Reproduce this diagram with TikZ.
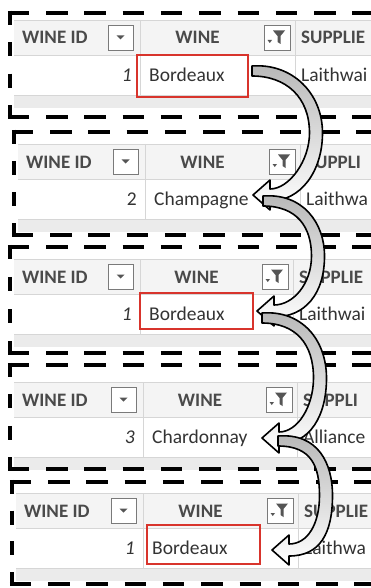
\documentclass[tikz,border=0pt]{standalone}
\usepackage{fontspec}
\setmainfont{Carlito}
\definecolor{hdrtext}{HTML}{4A4A4A}
\definecolor{celltext}{HTML}{333333}
\definecolor{gridc}{HTML}{D6D6D6}
\definecolor{hdrbg}{HTML}{F4F4F4}
\definecolor{stripbg}{HTML}{EBEBEB}
\definecolor{redbox}{HTML}{D8342C}
\definecolor{btnc}{HTML}{7A7A7A}
\tikzset{
 hdr/.style={font=\bfseries\fontsize{19}{22}\selectfont, text=hdrtext, inner sep=0pt},
 cell/.style={font=\fontsize{19.5}{22}\selectfont, text=celltext, inner sep=0pt},
 gridline/.style={draw=gridc, line width=0.8pt},
 border/.style={line width=4.5pt, dash pattern=on 21.5pt off 16.8pt},
 hilite/.style={draw=redbox, line width=2pt},
 btn/.style={draw=btnc, fill=white, line width=0.9pt},
 fat/.style={draw=black, line width=1.6pt, line join=round, top color=black!28, middle color=white, bottom color=white},
}
% #1 name, #2 left, #3 header top, #4 col1, #5 col2, #6 id, #7 wine, #8 supplier, #9 supplier header
\newcommand\winepanel[9]{%
 \fill[hdrbg] ({#2+4},#3) rectangle (380,{#3+35});
 \fill[white] ({#2+4},{#3+35}) rectangle (380,{#3+75});
 \fill[stripbg] ({#2+4},{#3+75}) rectangle (380,{#3+88});
 \draw[gridline] ({#2+4},#3) -- (380,#3) ({#2+4},{#3+35}) -- (380,{#3+35}) ({#2+4},{#3+75}) -- (380,{#3+75});
 \draw[gridline] (#4,#3) -- (#4,{#3+75}) (#5,#3) -- (#5,{#3+75});
 \node[hdr, anchor=base west] (#1-idh) at ({#2+12},{#3+24}) {WINE ID};
 \draw[btn] ({#4-32},{#3+5}) rectangle ({#4-7},{#3+30});
 \fill[btnc!70!black] ({#4-23.5},{#3+15.5}) -- ({#4-15.5},{#3+15.5}) -- ({#4-19.5},{#3+19.5}) -- cycle;
 \node[hdr, anchor=base] (#1-wh) at ({(#4+#5)/2-20},{#3+24}) {WINE};
 \draw[btn] ({#5-31},{#3+5}) rectangle ({#5-5},{#3+30});
 \fill[btnc!70!black] ({#5-22},{#3+10.5}) -- ({#5-10},{#3+10.5}) -- ({#5-14.5},{#3+16}) -- ({#5-14.5},{#3+24}) -- ({#5-17.5},{#3+22}) -- ({#5-17.5},{#3+16}) -- cycle;
 \fill[btnc!70!black] ({#5-27.5},{#3+20}) -- ({#5-23},{#3+20}) -- ({#5-25.25},{#3+23}) -- cycle;
 \node[hdr, anchor=base west] (#1-sh) at ({#5+6},{#3+24}) {#9};
 \node[cell, anchor=base east] (#1-id) at ({#4-8},{#3+61.5}) {#6};
 \node[cell, anchor=base west] (#1-w) at ({#4+9},{#3+61.5}) {#7};
 \node[cell, anchor=base west] (#1-s) at ({#5+6},{#3+61.5}) {#8};
}
% #1 left, #2 top, #3 bottom
\newcommand\dashedframe[3]{%
 \pgfmathsetmacro\gapv{(#3-#2+4.5-56)/3}
 \draw[border] ({#1-2.25},#2) -- (385,#2);
 \draw[border] ({#1-2.25},#3) -- (385,#3);
 \draw[line width=4.5pt, dash pattern=on 14pt off \gapv pt] (#1,{#2-2.25}) -- (#1,{#3+2.25});
}
% #1 Sx, #2 Sy, #3 Tx, #4 Ty, #5 Mx
\newcommand\fatarrow[5]{%
 \pgfmathsetmacro\midy{(#2+#4)/2}
 \path[fat] (#1,{#2-5}) .. controls ({#1+40},{#2-8}) and ({#5+6.5},{#2+22}) .. ({#5+6.5},\midy)
   .. controls ({#5+6.5},{\midy+38}) and ({#3+48},{#4+6}) .. ({#3+17},{#4+6})
   -- ({#3+17},{#4+15}) -- (#3,#4) -- ({#3+17},{#4-15}) -- ({#3+17},{#4-6})
   .. controls ({#3+36},{#4-6}) and ({#5-6.5},{\midy+28}) .. ({#5-6.5},\midy)
   .. controls ({#5-6.5},{#2+26}) and ({#1+34},{#2+5}) .. (#1,{#2+5}) -- cycle;
}
\begin{document}
\begin{tikzpicture}[x=1pt,y=-1pt]
\useasboundingbox (0,0) rectangle (371,588);
\clip (0,0) rectangle (371,588);
\fill[white] (0,0) rectangle (371,588);

\winepanel{p1}{10}{20}{140}{295}{\textit{1}}{Bordeaux}{Laithwai}{SUPPLIE}
\winepanel{p2}{14}{144}{145}{300}{2}{Champagne}{Laithwa}{SUPPLI}
\winepanel{p3}{10}{259}{140}{293}{\textit{1}}{Bordeaux}{Laithwai}{SUPPLIE}
\winepanel{p4}{10}{382}{143}{297}{\textit{3}}{Chardonnay}{Alliance}{SUPPLI}
\winepanel{p5}{12}{493}{143}{298}{\textit{1}}{Bordeaux}{Laithwa}{SUPPLIE}

\draw[hilite] (137,55) rectangle (248,97);
\draw[hilite] (140,293) rectangle (253,329);
\draw[hilite] (147,525) rectangle (260,564);

\dashedframe{10}{13}{117}
\dashedframe{14}{132}{235}
\dashedframe{10}{247}{353}
\dashedframe{10}{365}{469}
\dashedframe{12}{482}{584}

\fatarrow{252}{71}{253}{195}{316}
\fatarrow{263}{201}{257}{311}{318}
\fatarrow{262}{318}{262}{438}{320}
\fatarrow{278}{441}{272}{550}{326}
\end{tikzpicture}
\end{document}
